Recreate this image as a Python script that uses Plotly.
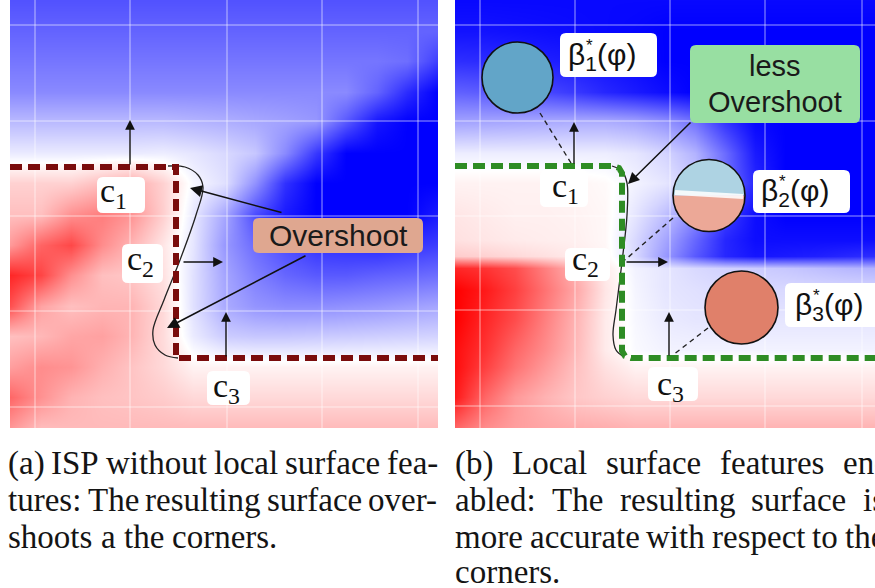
import plotly.graph_objects as go

W, H = 875, 588

# Signed implicit field sampled on a lattice (negative = inside / red, positive = outside / blue)
left_x = [10, 41, 71, 102, 132, 163, 193, 224, 255, 285, 316, 346, 377, 407, 438]
left_y = [0, 31, 61, 92, 122, 153, 183, 214, 245, 275, 306, 336, 367, 397, 428]
left_z = [
    [.68, .68, .68, .68, .68, .68, .68, .68, .68, .68, .68, .68, .68, .68, .68],
    [.61, .61, .61, .61, .61, .61, .61, .61, .61, .61, .61, .61, .61, .61, .61],
    [.54, .54, .54, .54, .54, .54, .54, .54, .54, .54, .54, .54, .54, .57, .76],
    [.46, .46, .46, .46, .46, .46, .46, .46, .46, .46, .46, .46, .61, .83, 1.0],
    [.27, .27, .27, .27, .27, .27, .29, .31, .34, .37, .41, .66, .92, 1.0, 1.0],
    [.08, .08, .08, .08, .08, .07, .10, .15, .22, .46, .78, 1.0, 1.0, 1.0, 1.0],
    [-.18, -.18, -.18, -.26, -.33, -.18, .03, .12, .43, .81, 1.0, 1.0, 1.0, 1.0, 1.0],
    [-.25, -.25, -.43, -.51, -.42, -.19, .09, .34, .70, .90, 1.0, 1.0, 1.0, 1.0, .90],
    [-.40, -.61, -.72, -.45, -.29, -.10, .10, .40, .58, .70, .80, .82, .84, .80, .76],
    [-.85, -.73, -.44, -.25, -.22, -.12, .12, .35, .50, .60, .65, .65, .62, .60, .57],
    [-.69, -.36, -.25, -.29, -.29, -.15, .12, .33, .42, .45, .45, .43, .41, .38, .35],
    [-.25, -.28, -.35, -.37, -.29, -.14, .08, .20, .22, .22, .21, .20, .19, .18, .17],
    [-.38, -.45, -.42, -.31, -.23, -.15, -.05, -.05, -.05, -.05, -.05, -.05, -.05, -.05, -.05],
    [-.60, -.43, -.30, -.25, -.23, -.20, -.15, -.15, -.15, -.15, -.15, -.15, -.15, -.15, -.15],
    [-.41, -.26, -.27, -.27, -.27, -.27, -.27, -.27, -.27, -.27, -.27, -.27, -.27, -.27, -.27],
]

right_x = [455, 485, 515, 545, 575, 605, 635, 665, 695, 725, 755, 785, 815, 845, 875]
right_y = [0, 31, 61, 92, 122, 153, 183, 214, 240, 256, 268, 290, 320, 350, 367, 397, 428]
right_z = [
    [.97, .97, .97, .97, .97, .97, .97, .97, .97, .97, .97, .97, .97, .97, .97],
    [.93, .93, .94, .95, .96, .97, .98, 1.0, 1.0, 1.0, 1.0, 1.0, 1.0, 1.0, 1.0],
    [.82, .83, .85, .88, .90, .93, .96, 1.0, 1.0, 1.0, 1.0, 1.0, 1.0, 1.0, 1.0],
    [.62, .64, .68, .72, .78, .85, .90, .95, 1.0, 1.0, 1.0, 1.0, 1.0, 1.0, 1.0],
    [.36, .35, .34, .33, .32, .32, .35, .42, .55, .80, .97, 1.0, 1.0, 1.0, 1.0],
    [.07, .07, .07, .07, .07, .07, .10, .17, .30, .58, .90, 1.0, 1.0, 1.0, 1.0],
    [-.05, -.05, -.05, -.05, -.04, -.02, .05, .10, .22, .55, .85, 1.0, 1.0, 1.0, 1.0],
    [-.10, -.08, -.06, -.06, -.05, -.03, .10, .25, .45, .75, .95, 1.0, 1.0, 1.0, 1.0],
    [-.12, -.10, -.08, -.07, -.06, -.03, .15, .35, .60, .85, .95, .95, .95, .95, .95],
    [-.20, -.18, -.15, -.12, -.08, -.04, .15, .40, .65, .85, .92, .90, .88, .85, .82],
    [-.85, -.80, -.70, -.50, -.30, -.08, .05, .10, .15, .18, .20, .22, .25, .28, .30],
    [-1.0, -.90, -.75, -.55, -.35, -.10, .04, .10, .12, .14, .15, .15, .15, .15, .15],
    [-1.0, -.85, -.70, -.50, -.30, -.08, .03, .08, .10, .10, .10, .10, .10, .10, .10],
    [-.95, -.80, -.60, -.45, -.28, -.08, .02, .05, .05, .05, .05, .05, .05, .05, .05],
    [-.95, -.75, -.55, -.40, -.25, -.12, -.05, -.05, -.05, -.05, -.05, -.05, -.05, -.05, -.05],
    [-.90, -.60, -.40, -.30, -.22, -.18, -.15, -.15, -.15, -.15, -.15, -.15, -.15, -.15, -.15],
    [-.60, -.45, -.38, -.35, -.33, -.32, -.30, -.30, -.30, -.30, -.30, -.30, -.30, -.30, -.30],
]

# Lattice lines of the sampling grid
left_grid_x = [35, 130, 227, 322, 418]
left_grid_y = [25, 121, 216, 311, 407]
right_grid_x = [480, 575, 670, 765, 862]
right_grid_y = [25, 121, 216, 310, 406]

# Ground-truth boundary (dashed) and reconstructed zero level set (thin)
left_boundary_x = [10, 176, 176, 438]
left_boundary_y = [167, 167, 358, 358]
right_boundary_x = [455, 613, 619, 622, 622, 625, 631, 875]
right_boundary_y = [166, 166, 168, 173, 351, 356, 358, 358]

left_surface_x = [168, 185, 198, 203, 196, 180, 164, 153, 155, 165, 178]
left_surface_y = [166, 167, 175, 187, 215, 260, 300, 330, 345, 355, 358]
right_surface_x = [612, 622, 627, 627, 622, 616, 613, 616, 624]
right_surface_y = [166, 171, 183, 215, 262, 310, 335, 350, 357]

# Constraint points c1..c3 with their normals
left_c_x = [130, 182, 226]
left_c_y = [166, 262, 358]
left_n_x = [130, 223, 226]
left_n_y = [120, 262, 312]
right_c_x = [574, 625, 669]
right_c_y = [165, 262, 357]
right_n_x = [574, 668, 669]
right_n_y = [122, 262, 312]

# Local feature discs beta_i*(phi): centre, radius, colour
disc_x = [517.5, 709, 741.5]
disc_y = [77.5, 195.5, 307.5]
disc_r = [35.5, 36, 36.5]
disc_color = ["#62a5c8", None, "#e0806a"]
disc_top_color = "#aed3e3"
disc_bottom_color = "#eca897"

SCALE = [[0.0, "rgb(255,0,0)"], [0.5, "rgb(255,255,255)"], [1.0, "rgb(0,0,255)"]]

fig = go.Figure()

fig.add_trace(go.Heatmap(x=left_x, y=left_y, z=left_z, colorscale=SCALE, zmin=-1, zmax=1,
                         zsmooth="best", showscale=False, hoverinfo="skip", xaxis="x", yaxis="y"))
fig.add_trace(go.Heatmap(x=right_x, y=right_y, z=right_z, colorscale=SCALE, zmin=-1, zmax=1,
                         zsmooth="best", showscale=False, hoverinfo="skip", xaxis="x2", yaxis="y2"))


def grid_trace(gx, gy, x0, x1, y0, y1, xa, ya):
    xs, ys = [], []
    for g in gx:
        xs += [g, g, None]
        ys += [y0, y1, None]
    for g in gy:
        xs += [x0, x1, None]
        ys += [g, g, None]
    return go.Scatter(x=xs, y=ys, mode="lines", line=dict(color="rgba(255,255,255,0.6)", width=1),
                      hoverinfo="skip", showlegend=False, xaxis=xa, yaxis=ya)


fig.add_trace(grid_trace(left_grid_x, left_grid_y, 10, 438, 0, 428, "x", "y"))
fig.add_trace(grid_trace(right_grid_x, right_grid_y, 455, 875, 0, 428, "x2", "y2"))

fig.add_trace(go.Scatter(x=left_surface_x, y=left_surface_y, mode="lines",
                         line=dict(color="#222222", width=1.3, shape="spline"),
                         hoverinfo="skip", showlegend=False, xaxis="x", yaxis="y"))
fig.add_trace(go.Scatter(x=right_surface_x, y=right_surface_y, mode="lines",
                         line=dict(color="#222222", width=1.3, shape="spline"),
                         hoverinfo="skip", showlegend=False, xaxis="x2", yaxis="y2"))

fig.add_trace(go.Scatter(x=left_boundary_x, y=left_boundary_y, mode="lines",
                         line=dict(color="#7a0c0c", width=6, dash="12px,6px"),
                         hoverinfo="skip", showlegend=False, xaxis="x", yaxis="y"))
fig.add_trace(go.Scatter(x=right_boundary_x, y=right_boundary_y, mode="lines",
                         line=dict(color="#2e8c24", width=6, dash="12px,6px"),
                         hoverinfo="skip", showlegend=False, xaxis="x2", yaxis="y2"))


def rrect(x0, y0, x1, y1, r=6):
    return (f"M{x0 + r},{y0} L{x1 - r},{y0} Q{x1},{y0} {x1},{y0 + r} "
            f"L{x1},{y1 - r} Q{x1},{y1} {x1 - r},{y1} L{x0 + r},{y1} "
            f"Q{x0},{y1} {x0},{y1 - r} L{x0},{y0 + r} Q{x0},{y0} {x0 + r},{y0} Z")


def half_disc(cx, cy, r, top=True):
    k = 0.5523 * r
    s = -1 if top else 1
    return (f"M{cx - r},{cy} C{cx - r},{cy + s * k} {cx - k},{cy + s * r} {cx},{cy + s * r} "
            f"C{cx + k},{cy + s * r} {cx + r},{cy + s * k} {cx + r},{cy} Z")


shapes = []

# dashed connectors from each feature disc to its constraint point
connectors = [((540, 113), (571, 163)), ((673, 218), (625, 260)), ((708, 328), (673, 355))]
for (ax_, ay_), (bx_, by_) in connectors:
    shapes.append(dict(type="line", xref="x2", yref="y2", x0=ax_, y0=ay_, x1=bx_, y1=by_,
                       line=dict(color="#222222", width=1.4, dash="5px,4px")))

for i in range(3):
    cx, cy, r = disc_x[i], disc_y[i], disc_r[i]
    if disc_color[i] is None:
        shapes.append(dict(type="path", xref="x2", yref="y2", path=half_disc(cx, cy, r, True),
                           fillcolor=disc_top_color, line=dict(width=0)))
        shapes.append(dict(type="path", xref="x2", yref="y2", path=half_disc(cx, cy, r, False),
                           fillcolor=disc_bottom_color, line=dict(width=0)))
        shapes.append(dict(type="line", xref="x2", yref="y2", x0=cx - r + 2, y0=cy - 3, x1=cx + r - 2, y1=cy + 1,
                           line=dict(color="rgba(255,255,255,0.85)", width=5)))
        shapes.append(dict(type="circle", xref="x2", yref="y2", x0=cx - r, x1=cx + r, y0=cy - r, y1=cy + r,
                           line=dict(color="#111111", width=1.6)))
    else:
        shapes.append(dict(type="circle", xref="x2", yref="y2", x0=cx - r, x1=cx + r, y0=cy - r, y1=cy + r,
                           fillcolor=disc_color[i], line=dict(color="#111111", width=1.6)))

# label boxes
boxes = [
    ("x", "y", 97, 177, 145, 213, "white"),
    ("x", "y", 122, 244, 163, 283, "white"),
    ("x", "y", 207, 371, 250, 405, "white"),
    ("x", "y", 253, 218, 423, 253, "#dfa790"),
    ("x2", "y2", 540, 170, 588, 207, "white"),
    ("x2", "y2", 565, 248, 610, 281, "white"),
    ("x2", "y2", 648, 367, 698, 401, "white"),
    ("x2", "y2", 560, 33, 657, 77, "white"),
    ("x2", "y2", 753, 170, 850, 213, "white"),
    ("x2", "y2", 785, 283, 905, 327, "white"),
    ("x2", "y2", 690, 45, 860, 123, "#98dfa2"),
]
for xr, yr, x0, y0, x1, y1, col in boxes:
    shapes.append(dict(type="path", xref=xr, yref=yr, path=rrect(x0, y0, x1, y1, 6),
                       fillcolor=col, line=dict(width=0)))

annotations = []


def arrow(xr, yr, tx, ty, hx, hy, size=1.4, width=1.4):
    annotations.append(dict(xref=xr, yref=yr, axref=xr, ayref=yr, x=hx, y=hy, ax=tx, ay=ty,
                            text="", showarrow=True, arrowhead=2, arrowsize=size,
                            arrowwidth=width, arrowcolor="#111111", standoff=0, startstandoff=0))


for i in range(3):
    arrow("x", "y", left_c_x[i], left_c_y[i], left_n_x[i], left_n_y[i])
    arrow("x2", "y2", right_c_x[i], right_c_y[i], right_n_x[i], right_n_y[i])

# pointers from the call-out boxes to the overshooting parts
arrow("x", "y", 283, 213, 190, 188, size=1.5, width=1.6)
arrow("x", "y", 307, 255, 167, 328, size=1.5, width=1.6)
arrow("x2", "y2", 692, 121, 628, 184, size=1.5, width=1.5)


def text(xr, yr, x, y, s, size, family, xanchor="left", color="#111111"):
    annotations.append(dict(xref=xr, yref=yr, x=x, y=y, text=s, showarrow=False,
                            xanchor=xanchor, yanchor="middle", borderpad=0, borderwidth=0,
                            font=dict(size=size, family=family, color=color)))


SERIF = "Liberation Serif"
SANS = "Liberation Sans"

# constraint labels
for xr, yr, x, y, s in [
    ("x", "y", 100, 193, "c<sub>1</sub>"),
    ("x", "y", 127, 261, "c<sub>2</sub>"),
    ("x", "y", 213, 388, "c<sub>3</sub>"),
    ("x2", "y2", 552, 188, "c<sub>1</sub>"),
    ("x2", "y2", 572, 261, "c<sub>2</sub>"),
    ("x2", "y2", 657, 386, "c<sub>3</sub>"),
]:
    text(xr, yr, x, y, s, 34, SERIF)

# feature labels
for x, y, sub in [(568, 56, "1"), (761, 192, "2"), (795, 306, "3")]:
    text("x2", "y2", x, y, f"β<sub>{sub}</sub>(φ)", 30, SANS)
    text("x2", "y2", x + 18, y - 11, "*", 17, SANS)

text("x", "y", 338, 235, "Overshoot", 30, SANS, xanchor="center", color="#1a1a1a")
text("x2", "y2", 775, 66, "less", 29, SANS, xanchor="center", color="#1a1a1a")
text("x2", "y2", 775, 102, "Overshoot", 29, SANS, xanchor="center", color="#1a1a1a")

# captions, justified with Times metrics
TIMES = {" ": 250, "(": 333, ")": 333, "-": 333, ".": 250, ":": 278,
         "a": 444, "b": 500, "c": 444, "d": 500, "e": 444, "f": 333, "g": 500, "h": 500,
         "i": 278, "l": 278, "m": 778, "n": 500, "o": 500, "p": 500, "r": 333, "s": 389,
         "t": 278, "u": 500, "v": 500, "w": 722, "y": 500,
         "I": 333, "S": 556, "P": 556, "T": 611, "L": 611}
CAP_SIZE = 33


def word_width(w):
    return sum(TIMES.get(ch, 500) for ch in w) * CAP_SIZE / 1000.0


caption_left = [("(a) ISP without local surface fea-", True),
                ("tures: The resulting surface over-", True),
                ("shoots a the corners.", False)]
caption_right = [("(b) Local surface features en-", True),
                 ("abled: The resulting surface is", True),
                 ("more accurate with respect to the", True),
                 ("corners.", False)]
line_y = [463, 500, 537, 572]


def set_caption(lines, x0, x1):
    for li, (line, justify) in enumerate(lines):
        words = line.split(" ")
        widths = [word_width(w) for w in words]
        if justify and len(words) > 1:
            gap = (x1 - x0 - sum(widths)) / (len(words) - 1)
        else:
            gap = word_width(" ")
        x = x0
        for w, wd in zip(words, widths):
            text("paper", "paper", x / W, 1 - line_y[li] / H, w, CAP_SIZE, SERIF, color="#141414")
            x += wd + gap


set_caption(caption_left, 8, 438)
set_caption(caption_right, 455, 885)

axis_common = dict(visible=False, fixedrange=True, showgrid=False, zeroline=False)
fig.update_layout(
    width=W, height=H,
    margin=dict(l=0, r=0, t=0, b=0),
    paper_bgcolor="white", plot_bgcolor="white",
    showlegend=False,
    xaxis=dict(domain=[10 / W, 438 / W], range=[10, 438], anchor="y", **axis_common),
    yaxis=dict(domain=[1 - 428 / H, 1], range=[428, 0], anchor="x", **axis_common),
    xaxis2=dict(domain=[455 / W, 1], range=[455, 875], anchor="y2", **axis_common),
    yaxis2=dict(domain=[1 - 428 / H, 1], range=[428, 0], anchor="x2", **axis_common),
    shapes=shapes,
    annotations=annotations,
)

fig.write_html("out.html", config={"displayModeBar": False})
